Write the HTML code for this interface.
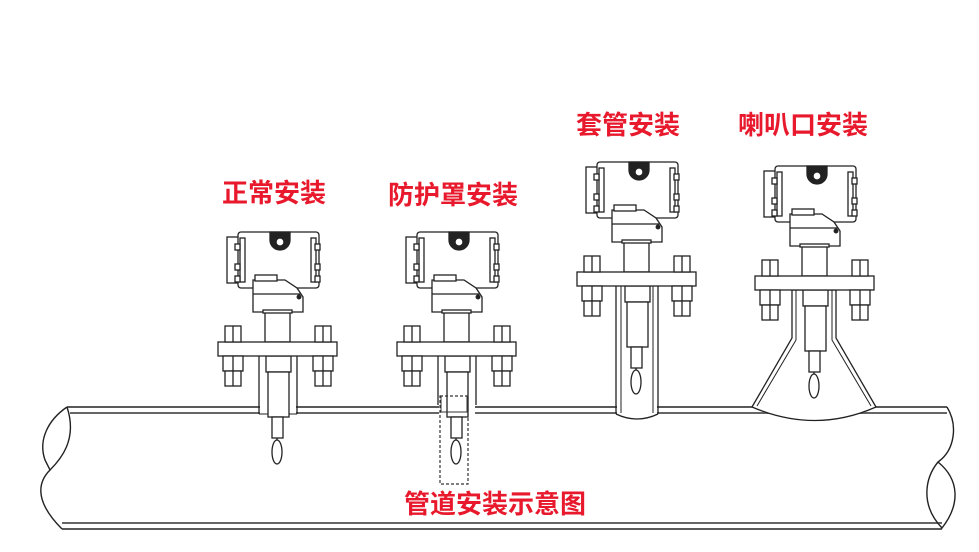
<!DOCTYPE html>
<html><head><meta charset="utf-8"><style>
html,body{margin:0;padding:0;background:#fff;}
svg{display:block}
.t{font-family:"Liberation Sans","Noto Sans CJK SC",sans-serif;font-weight:bold;font-size:26px;fill:#e8192c;}
</style></head><body>
<svg width="979" height="552" viewBox="0 0 979 552" xmlns="http://www.w3.org/2000/svg">
<defs>
<g id="head" fill="#fff" stroke="#222" stroke-width="1.3">
  <rect x="-50" y="-105" width="12" height="46"/>
  <rect x="-39" y="-110" width="81" height="56" rx="3"/>
  <rect x="-37" y="-104" width="5" height="44" fill="#fff"/>
  <rect x="-42" y="-98" width="5" height="6"/>
  <rect x="-42" y="-78" width="5" height="6"/>
  <rect x="-42" y="-66" width="5" height="6"/>
  <rect x="34" y="-104" width="5" height="44"/>
  <rect x="38" y="-98" width="5" height="6"/>
  <rect x="38" y="-78" width="5" height="6"/>
  <rect x="38" y="-66" width="5" height="6"/>
  <path d="M-7,-110 L-7,-102 A9,9 0 0 0 13,-102 L13,-110 Z" fill="#222"/>
  <circle cx="3" cy="-100" r="7" fill="#222"/>
  <circle cx="3" cy="-100" r="4" fill="#fff" stroke="#222"/>
  <path d="M-24,-62 L8,-62 L20,-54 L26,-45 L26,-30 L-24,-30 Z"/>
  <rect x="-22" y="-67" width="22" height="6"/>
  <line x1="-24" y1="-48" x2="24" y2="-48"/>
  <circle cx="22" cy="-45" r="1.8" fill="#222"/>
  <rect x="-12" y="-30" width="25" height="30"/>
  <rect x="-14" y="-32" width="29" height="3"/>
  <rect x="-59" y="0" width="119" height="14"/>
  <rect x="-52" y="-16" width="16" height="16"/><line x1="-44" y1="-16" x2="-44" y2="0"/>
  <rect x="38" y="-16" width="16" height="16"/><line x1="46" y1="-16" x2="46" y2="0"/>
  <rect x="-54" y="14" width="20" height="15"/><rect x="-52" y="29" width="16" height="15"/><line x1="-44" y1="14" x2="-44" y2="44"/>
  <rect x="36" y="14" width="20" height="15"/><rect x="38" y="29" width="16" height="15"/><line x1="46" y1="14" x2="46" y2="44"/>
</g>
<g id="probe" fill="#fff" stroke="#222" stroke-width="1.3">
  <rect x="-11" y="14" width="25" height="16"/>
  <rect x="-9" y="30" width="21" height="45"/>
  <rect x="-5" y="75" width="11" height="21"/>
  <line x1="0" y1="96" x2="0" y2="100"/>
  <ellipse cx="0" cy="110" rx="5" ry="12"/>
</g>
</defs>

<g fill="none" stroke="#222" stroke-width="1.4">
  <line x1="67" y1="407" x2="947" y2="407"/>
  <line x1="70" y1="413" x2="947" y2="413" stroke="#666" stroke-width="2"/>
  <line x1="62" y1="529" x2="942" y2="529"/>
  <line x1="62" y1="523" x2="942" y2="523" stroke="#666" stroke-width="2"/>
  <path d="M67,407 C48,420 38,440 45,460 L50,470 C60,460 78,440 67,407"/>
  <path d="M50,470 C35,485 38,505 62,529"/>
  <path d="M947,407 C958,425 955,450 938,462 C925,478 920,505 942,528 C960,505 960,480 938,462"/>
</g>

<g transform="translate(277,342)">
  <rect x="-17" y="63" width="36" height="10" fill="#fff" stroke="none"/>
  <path d="M-18,14 L-18,72 M20,14 L20,72" stroke="#222" fill="none" stroke-width="1.3"/>
  <path d="M-18,72 L20,72" stroke="#222" fill="none"/>
  <use href="#probe"/><use href="#head"/>
</g>
<g transform="translate(456,342)">
  <rect x="-17" y="63" width="36" height="10" fill="#fff" stroke="none"/>
  <path d="M-18,14 L-18,63 M20,14 L20,63" stroke="#222" fill="none" stroke-width="1.3"/>
  <use href="#probe"/><use href="#head"/>
  <rect x="-16" y="54" width="28" height="88" fill="none" stroke="#333" stroke-dasharray="3,2" stroke-width="1.2"/>
  <path d="M-15,54 L-15,70 L11,70 L11,54" fill="none" stroke="#333"/>
</g>
<g transform="translate(636,272)">
  <rect x="-19" y="128" width="40" height="16" fill="#fff" stroke="none"/>
  <path d="M-20,14 L-20,142 M22,14 L22,142" stroke="#222" fill="none" stroke-width="1.3"/>
  <path d="M-15,14 L-15,141 M17,14 L17,141" stroke="#222" fill="none" stroke-width="1"/>
  <path d="M-20,142 Q1,152 22,142" stroke="#222" fill="none" stroke-width="1.3"/>
  <use href="#probe"/><use href="#head"/>
</g>
<g transform="translate(814,276)">
  <path d="M-22,14 L-22,62 L-62,131 Q1,158 62,131 L22,62 L22,14 Z" fill="#fff" stroke="#222" stroke-width="1.3"/>
  <path d="M-18,14 L-18,64 L-57,130 M18,14 L18,64 L57,130" fill="none" stroke="#222" stroke-width="1"/>
  <use href="#probe"/><use href="#head"/>
</g>

<text class="t" x="222" y="202">正常安装</text>
<text class="t" x="388" y="204">防护罩安装</text>
<text class="t" x="576" y="134">套管安装</text>
<text class="t" x="738" y="134">喇叭口安装</text>
<text class="t" x="404" y="513">管道安装示意图</text>
</svg>
</body></html>
